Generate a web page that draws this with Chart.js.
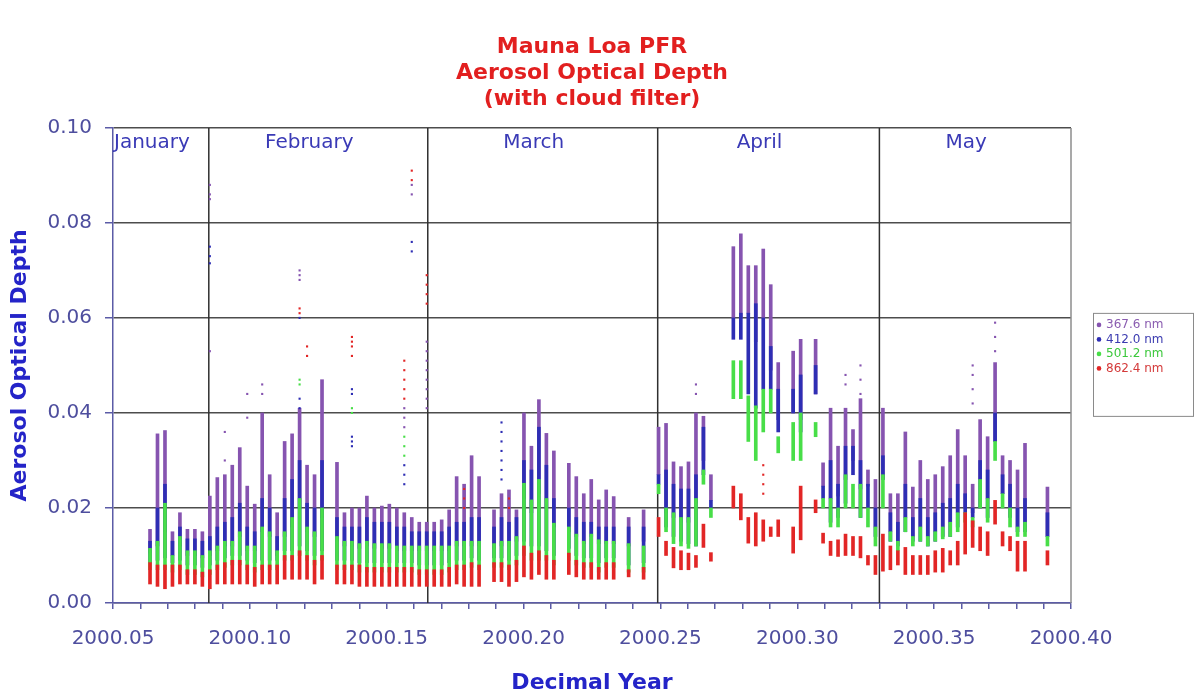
<!DOCTYPE html>
<html>
<head>
<meta charset="utf-8">
<title>Mauna Loa PFR - Aerosol Optical Depth</title>
<script src="https://cdn.jsdelivr.net/npm/chart.js@4.4.1/dist/chart.umd.min.js"></script>
<style>
    html, body { margin: 0; padding: 0; background: #fff; }
    #wrap { width: 1196px; height: 692px; }
</style>
</head>
<body>
<div id="wrap"><canvas id="aodChart"></canvas></div>
<script>
/* ======================================================
   DATA  (one entry per observing day)
====================================================== */

const chartTitle = ['Mauna Loa PFR', 'Aerosol Optical Depth', '(with cloud filter)'];
const seriesLabels = ['367.6 nm', '412.0 nm', '501.2 nm', '862.4 nm'];
const monthNames = ['January', 'February', 'March', 'April', 'May'];
const monthStarts = [2000.085, 2000.165, 2000.249, 2000.330];
const xTickLabels = ['2000.05', '2000.10', '2000.15', '2000.20', '2000.25', '2000.30', '2000.35', '2000.40'];
const yTickLabels = ['0.00', '0.02', '0.04', '0.06', '0.08', '0.10'];

// day of year 2000
const days = [
    23, 24, 25, 26, 27, 28, 29, 30,
    31, 32, 33, 34, 35, 36, 37, 38,
    39, 40, 41, 42, 43, 44, 45, 46,
    48, 49, 50, 51, 52, 53, 54, 55,
    56, 57, 58, 59, 60, 61, 62, 63,
    64, 65, 66, 67,
    69, 70, 71, 72, 73, 74, 75, 76, 77,
    79, 80, 81, 82, 83, 84, 85,
    87, 89,
    91, 92, 93, 94, 95, 96, 97, 98,
    101, 102, 103, 104, 105, 106, 107,
    109, 110,
    112, 113, 114, 115, 116, 117, 118, 119,
    120, 121, 122, 123, 124, 125, 126, 127,
    128, 129, 130, 131, 132, 133, 134, 135,
    136, 137, 138, 139, 140,
    143
];

// 367.6 nm daily range
const p367Hi = [
    .0155, .0356, .0363, .0150, .0190, .0155, .0155, .0150,
    .0225, .0264, .0270, .0290, .0327, .0246, .0208, .0400,
    .0270, .0190, .0340, .0356, .0410, .0290, .0270, .0470,
    .0296, .0190, .0200, .0200, .0225, .0200, .0204, .0208,
    .0200, .0190, .0180, .0170, .0170, .0170, .0175, .0196,
    .0266, .0250, .0310, .0266,
    .0196, .0230, .0238, .0196, .0400, .0330, .0428, .0357, .0320,
    .0294, .0266, .0230, .0260, .0217, .0238, .0224,
    .0180, .0196,
    .0370, .0378, .0297, .0287, .0297, .0400, .0393, .0270,
    .0750, .0777, .0710, .0710, .0745, .0670, .0506,
    .0530, .0555,
    .0555, .0295, .0410, .0330, .0410, .0365, .0430, .0280,
    .0260, .0410, .0230, .0230, .0360, .0244, .0300, .0260,
    .0270, .0287, .0310, .0365, .0310, .0250, .0386, .0350,
    .0506, .0310, .0300, .0280, .0336,
    .0244
];
const p367Lo = [
    .0105, .0120, .0150, .0100, .0120, .0100, .0100, .0095,
    .0100, .0110, .0120, .0120, .0140, .0110, .0110, .0150,
    .0140, .0100, .0140, .0160, .0200, .0150, .0140, .0180,
    .0130, .0120, .0120, .0115, .0120, .0115, .0115, .0115,
    .0110, .0110, .0110, .0110, .0110, .0110, .0110, .0110,
    .0120, .0120, .0120, .0120,
    .0115, .0120, .0120, .0130, .0220, .0190, .0230, .0200, .0160,
    .0150, .0140, .0125, .0140, .0125, .0125, .0125,
    .0120, .0130,
    .0270, .0190, .0180, .0170, .0170, .0210, .0300, .0216,
    .0600, .0600, .0610, .0550, .0600, .0490, .0386,
    .0400, .0386,
    .0440, .0246, .0220, .0225, .0260, .0300, .0240, .0246,
    .0160, .0260, .0150, .0130, .0180, .0140, .0160, .0140,
    .0150, .0160, .0170, .0190, .0200, .0190, .0260, .0220,
    .0340, .0230, .0200, .0160, .0170,
    .0140
];

// 412.0 nm daily range
const b412Hi = [
    .0130, .0200, .0250, .0130, .0160, .0135, .0135, .0130,
    .0140, .0160, .0170, .0180, .0210, .0160, .0150, .0220,
    .0200, .0140, .0220, .0260, .0300, .0210, .0200, .0300,
    .0180, .0160, .0160, .0160, .0180, .0170, .0170, .0170,
    .0160, .0160, .0150, .0150, .0150, .0150, .0150, .0160,
    .0170, .0170, .0180, .0180,
    .0160, .0180, .0170, .0180, .0300, .0280, .0370, .0290, .0220,
    .0200, .0180, .0170, .0170, .0160, .0160, .0160,
    .0160, .0160,
    .0270, .0280, .0250, .0240, .0240, .0270, .0370, .0216,
    .0600, .0610, .0610, .0630, .0600, .0540, .0450,
    .0450, .0480,
    .0500, .0246, .0300, .0250, .0330, .0330, .0300, .0250,
    .0200, .0310, .0190, .0170, .0250, .0180, .0220, .0180,
    .0190, .0210, .0220, .0250, .0230, .0200, .0300, .0280,
    .0400, .0270, .0250, .0200, .0220,
    .0190
];
const b412Lo = [
    .0085, .0090, .0095, .0085, .0090, .0080, .0080, .0075,
    .0080, .0090, .0095, .0100, .0100, .0090, .0085, .0090,
    .0090, .0090, .0110, .0110, .0120, .0110, .0100, .0110,
    .0090, .0090, .0090, .0085, .0085, .0085, .0085, .0085,
    .0085, .0085, .0085, .0080, .0080, .0080, .0080, .0085,
    .0090, .0090, .0095, .0090,
    .0095, .0095, .0090, .0100, .0130, .0120, .0120, .0110, .0100,
    .0115, .0100, .0095, .0095, .0085, .0095, .0095,
    .0080, .0085,
    .0250, .0160, .0140, .0130, .0125, .0120, .0270, .0200,
    .0555, .0555, .0440, .0410, .0450, .0450, .0360,
    .0400, .0360,
    .0440, .0220, .0170, .0180, .0210, .0270, .0180, .0200,
    .0140, .0260, .0130, .0120, .0150, .0130, .0130, .0120,
    .0130, .0140, .0140, .0160, .0190, .0180, .0200, .0180,
    .0340, .0230, .0180, .0150, .0150,
    .0140
];

// 501.2 nm daily range
const g501Hi = [
    .0115, .0130, .0210, .0100, .0140, .0110, .0110, .0100,
    .0110, .0120, .0130, .0130, .0150, .0120, .0120, .0160,
    .0150, .0110, .0150, .0180, .0220, .0160, .0150, .0200,
    .0140, .0130, .0130, .0125, .0130, .0125, .0125, .0125,
    .0120, .0120, .0120, .0120, .0120, .0120, .0120, .0120,
    .0130, .0130, .0130, .0130,
    .0125, .0130, .0130, .0140, .0252, .0217, .0260, .0220, .0168,
    .0160, .0145, .0130, .0145, .0133, .0130, .0130,
    .0125, .0120,
    .0250, .0200, .0190, .0180, .0180, .0220, .0280, .0200,
    .0510, .0510, .0436, .0415, .0450, .0450, .0350,
    .0380, .0400,
    .0380, .0220, .0220, .0200, .0270, .0250, .0250, .0200,
    .0160, .0270, .0150, .0130, .0180, .0140, .0160, .0140,
    .0150, .0160, .0170, .0190, .0190, .0180, .0260, .0220,
    .0340, .0230, .0200, .0160, .0170,
    .0140
];
const g501Lo = [
    .0070, .0070, .0070, .0065, .0070, .0060, .0060, .0055,
    .0060, .0070, .0075, .0080, .0080, .0070, .0065, .0070,
    .0070, .0070, .0090, .0090, .0100, .0090, .0080, .0090,
    .0070, .0070, .0070, .0065, .0065, .0065, .0065, .0065,
    .0065, .0065, .0065, .0060, .0060, .0060, .0060, .0065,
    .0070, .0070, .0075, .0070,
    .0075, .0075, .0070, .0080, .0100, .0090, .0090, .0090, .0080,
    .0090, .0080, .0075, .0075, .0065, .0075, .0075,
    .0065, .0065,
    .0230, .0150, .0125, .0120, .0115, .0120, .0250, .0180,
    .0430, .0430, .0340, .0300, .0360, .0400, .0316,
    .0300, .0300,
    .0350, .0200, .0160, .0160, .0200, .0200, .0180, .0160,
    .0120, .0200, .0130, .0110, .0150, .0120, .0130, .0120,
    .0130, .0135, .0140, .0150, .0170, .0160, .0200, .0170,
    .0300, .0200, .0160, .0140, .0140,
    .0120
];

// 862.4 nm daily range
const r862Hi = [
    .0085, .0080, .0080, .0080, .0080, .0070, .0070, .0065,
    .0070, .0080, .0085, .0090, .0090, .0080, .0075, .0080,
    .0080, .0080, .0100, .0100, .0110, .0100, .0090, .0100,
    .0080, .0080, .0080, .0080, .0075, .0075, .0075, .0075,
    .0075, .0075, .0075, .0070, .0070, .0070, .0070, .0075,
    .0080, .0080, .0085, .0080,
    .0085, .0085, .0080, .0090, .0120, .0105, .0110, .0100, .0090,
    .0105, .0090, .0085, .0085, .0075, .0085, .0085,
    .0070, .0075,
    .0180, .0130, .0117, .0110, .0105, .0100, .0166, .0106,
    .0246, .0230, .0180, .0190, .0175, .0160, .0175,
    .0160, .0246,
    .0217, .0147, .0130, .0133, .0145, .0140, .0140, .0100,
    .0100, .0145, .0120, .0110, .0117, .0100, .0100, .0100,
    .0110, .0115, .0110, .0130, .0190, .0173, .0160, .0150,
    .0216, .0150, .0140, .0130, .0130,
    .0110
];
const r862Lo = [
    .0040, .0035, .0030, .0035, .0040, .0040, .0040, .0035,
    .0030, .0040, .0040, .0040, .0040, .0040, .0035, .0040,
    .0040, .0040, .0050, .0050, .0050, .0050, .0040, .0050,
    .0040, .0040, .0040, .0035, .0035, .0035, .0035, .0035,
    .0035, .0035, .0035, .0035, .0035, .0035, .0035, .0035,
    .0040, .0035, .0035, .0035,
    .0045, .0045, .0035, .0045, .0055, .0050, .0060, .0050, .0050,
    .0060, .0055, .0050, .0050, .0050, .0050, .0050,
    .0055, .0050,
    .0140, .0100, .0074, .0070, .0070, .0075, .0117, .0088,
    .0200, .0175, .0126, .0120, .0130, .0140, .0140,
    .0105, .0133,
    .0190, .0126, .0100, .0098, .0100, .0100, .0095, .0080,
    .0060, .0067, .0070, .0080, .0060, .0060, .0060, .0060,
    .0065, .0065, .0080, .0080, .0103, .0117, .0110, .0100,
    .0166, .0120, .0110, .0067, .0067,
    .0080
];

// isolated points standing apart from the daily streaks
const p367OutDays = [31, 31, 31, 31, 33, 33, 36, 36, 38, 38, 43, 43, 43, 57, 57, 57, 58, 58,
    60, 60, 60, 60, 60, 60, 60, 60, 96, 96, 116, 116, 118, 118, 118, 133, 133, 133, 133, 136, 136, 136];
const p367OutVals = [.088, .086, .085, .053, .036, .030, .044, .039, .046, .044, .070, .069, .068, .041, .039, .037, .088, .086,
    .055, .053, .051, .049, .047, .045, .043, .041, .046, .044, .048, .046, .050, .047, .044, .050, .048, .045, .042, .059, .056, .053];
const b412OutDays = [31, 31, 31, 43, 43, 43, 50, 50, 50, 50, 50, 57, 57, 57, 58, 58, 70, 70, 70, 70, 70, 70, 70];
const b412OutVals = [.075, .073, .0715, .060, .043, .041, .045, .044, .035, .034, .033, .029, .027, .025, .076, .074,
    .038, .036, .034, .032, .030, .028, .026];
const g501OutDays = [43, 43, 50, 50, 57, 57, 57];
const g501OutVals = [.047, .046, .041, .040, .035, .033, .031];
const r862OutDays = [43, 43, 44, 44, 50, 50, 50, 50, 57, 57, 57, 57, 57, 58, 58, 60, 60, 60, 60, 65, 65, 65, 71, 71, 105, 105, 105, 105];
const r862OutVals = [.062, .061, .054, .052, .056, .055, .054, .052, .051, .049, .047, .045, .043, .091, .089,
    .069, .067, .065, .063, .024, .022, .020, .022, .020, .029, .027, .025, .023];

/* ======================================================
   HELPERS
====================================================== */

const toYear = d => 2000 + (d + 0.25) / 366;

function dailyRanges(lo, hi) {
    return days.map((d, i) => ({ x: toYear(d), y: [lo[i], hi[i]] }));
}

function loosePoints(ds, vs) {
    return ds.map((d, i) => ({ x: toYear(d), y: vs[i] }));
}

const colours = ['#8654b0', '#2e2eb4', '#48de48', '#e22626'];
const legendText = ['#8a5cb0', '#3b3bb0', '#3cc83c', '#d43a3a'];

/* ======================================================
   DECORATIONS: month lines, month names, legend box
====================================================== */

const decorPlugin = {
    id: 'decor',
    beforeDatasetsDraw(chart) {
        const { ctx, chartArea: a, scales: { x } } = chart;
        ctx.save();
        ctx.strokeStyle = '#2f2f2f';
        ctx.lineWidth = 1.5;
        monthStarts.forEach(v => {
            const px = x.getPixelForValue(v);
            ctx.beginPath();
            ctx.moveTo(px, a.top);
            ctx.lineTo(px, a.bottom);
            ctx.stroke();
        });
        ctx.strokeStyle = '#8d8d8d';
        ctx.beginPath();
        ctx.moveTo(a.right, a.top);
        ctx.lineTo(a.right, a.bottom);
        ctx.stroke();
        ctx.restore();
    },
    afterDraw(chart) {
        const { ctx, chartArea: a, scales: { x } } = chart;
        ctx.save();

        // month names
        const edges = [x.min, ...monthStarts, x.max].map(v => x.getPixelForValue(v));
        ctx.font = '20px "DejaVu Sans"';
        ctx.fillStyle = '#3a3ab6';
        ctx.textAlign = 'center';
        ctx.textBaseline = 'middle';
        monthNames.forEach((name, i) => {
            ctx.fillText(name, (edges[i] + edges[i + 1]) / 2 - 9, a.top + 15);
        });

        // legend
        const left = a.right + 22;
        const top = a.top + 185;
        ctx.strokeStyle = '#8a8a8a';
        ctx.lineWidth = 1;
        ctx.strokeRect(left + 0.5, top + 0.5, 100, 103);
        ctx.font = '12px "DejaVu Sans"';
        ctx.textAlign = 'left';
        seriesLabels.forEach((label, i) => {
            const y = top + 12 + i * 14.5;
            ctx.fillStyle = colours[i];
            ctx.beginPath();
            ctx.arc(left + 6, y, 2.3, 0, Math.PI * 2);
            ctx.fill();
            ctx.fillStyle = legendText[i];
            ctx.fillText(label, left + 13, y);
        });
        ctx.restore();
    }
};

/* ======================================================
   CHART
====================================================== */

Chart.defaults.font.family = '"DejaVu Sans", sans-serif';

const rangeSets = [
    [p367Lo, p367Hi], [b412Lo, b412Hi], [g501Lo, g501Hi], [r862Lo, r862Hi]
].map(([lo, hi], i) => ({
    label: seriesLabels[i],
    data: dailyRanges(lo, hi),
    backgroundColor: colours[i],
    borderWidth: 0,
    barThickness: 3,
    grouped: false,
    order: 4 - i
}));

const outSets = [
    [p367OutDays, p367OutVals], [b412OutDays, b412OutVals],
    [g501OutDays, g501OutVals], [r862OutDays, r862OutVals]
].map(([ds, vs], i) => ({
    type: 'scatter',
    label: seriesLabels[i] + ' (isolated)',
    data: loosePoints(ds, vs),
    backgroundColor: colours[i],
    borderColor: colours[i],
    pointStyle: 'rect',
    pointRadius: 1.5,
    borderWidth: 0,
    order: 0
}));

const ctx = document.getElementById('aodChart').getContext('2d');

new Chart(ctx, {
    type: 'bar',
    data: { datasets: [...rangeSets, ...outSets] },
    options: {
        responsive: true,
        maintainAspectRatio: false,
        animation: false,
        events: [],
        layout: { padding: { top: 0, right: 125, bottom: 0, left: 0 } },
        plugins: {
            legend: { display: false },
            tooltip: { enabled: false },
            title: {
                display: true,
                text: chartTitle,
                color: '#e21f1f',
                fullSize: false,
                font: { size: 22, weight: 'bold', lineHeight: 1.18 },
                padding: { top: 34, bottom: 16 }
            }
        },
        scales: {
            x: {
                type: 'linear',
                min: 2000.05,
                max: 2000.40,
                offset: false,
                afterFit: (scale) => { scale.height = 89; },
                ticks: {
                    stepSize: 0.01,
                    autoSkip: false,
                    maxRotation: 0,
                    padding: 18,
                    color: '#4e4e9e',
                    font: { size: 20 },
                    callback: (v) => {
                        const k = Math.round(v * 100);
                        return k % 5 === 0 ? xTickLabels[(k - 200005) / 5] : '';
                    }
                },
                grid: { drawOnChartArea: false, offset: false, tickLength: 6, tickColor: '#5b5ba6', lineWidth: 1.5 },
                border: { color: '#5b5ba6', width: 1.5 },
                title: {
                    display: true,
                    text: 'Decimal Year',
                    color: '#2424c8',
                    font: { size: 22, weight: 'bold', lineHeight: 0.8 },
                    padding: { top: 0, bottom: 0 }
                }
            },
            y: {
                min: 0,
                max: 0.1,
                afterFit: (scale) => { scale.width = 113; },
                ticks: {
                    stepSize: 0.02,
                    padding: 13,
                    color: '#4e4e9e',
                    font: { size: 20 },
                    callback: (v) => yTickLabels[Math.round(v / 0.02)]
                },
                grid: { color: '#4d4d4d', lineWidth: 1.5, tickLength: 8, tickColor: '#5b5ba6' },
                border: { color: '#5b5ba6', width: 1.5 },
                title: {
                    display: true,
                    text: 'Aerosol Optical Depth',
                    color: '#2424c8',
                    font: { size: 22, weight: 'bold' },
                    padding: { top: 7, bottom: 0 }
                }
            }
        }
    },
    plugins: [decorPlugin]
});
</script>
</body>
</html>
